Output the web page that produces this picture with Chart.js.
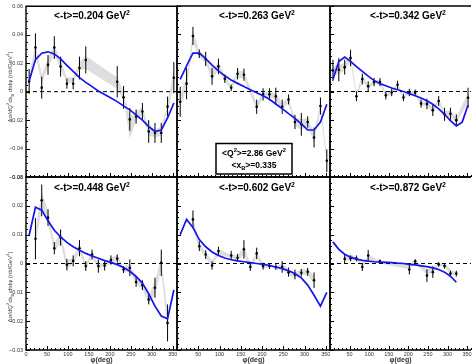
<!DOCTYPE html>
<html>
<head>
<meta charset="utf-8">
<script src="https://cdn.jsdelivr.net/npm/chart.js@4/dist/chart.umd.min.js"></script>
<style>
  html, body { margin: 0; padding: 0; background: #fff; }
  #wrap { position: relative; width: 475px; height: 364px; overflow: hidden; background: #fff; }
  #wrap canvas { position: absolute; left: 0; top: 0; }
</style>
</head>
<body>
<div id="wrap"></div>
<script>
// ---- kinematic labels ----
const tLabels = ['0.204', '0.263', '0.342', '0.448', '0.602', '0.872'];
const q2Label = '2.86';
const xbLabel = '0.335';

// ---- axis ticks ----
const xTickValues = [0, 50, 100, 150, 200, 250, 300, 350];
const yTicksTop = [-0.06, -0.04, -0.02, 0, 0.02, 0.04, 0.06];
const yTickLabelsTop = ['\u22120.06', '\u22120.04', '\u22120.02', '0', '0.02', '0.04', '0.06'];
const yTicksBottom = [-0.03, -0.02, -0.01, 0, 0.01, 0.02, 0.03];
const yTickLabelsBottom = ['\u22120.03', '\u22120.02', '\u22120.01', '0', '0.01', '0.02', '0.03'];

// phi bin centres used by the model curves
const bins = [7.5, 22.5, 37.5, 52.5, 67.5, 82.5, 97.5, 112.5, 127.5, 142.5, 157.5, 172.5,
              187.5, 202.5, 217.5, 232.5, 247.5, 262.5, 277.5, 292.5, 307.5, 322.5, 337.5, 352.5];

// ---- <-t> = 0.204 ----
const phi1 = [7.5, 22.5, 37.5, 52.5, 67.5, 82.5, 97.5, 112.5, 127.5, 142.5, 217.5, 232.5, 247.5, 262.5, 277.5, 292.5, 307.5, 322.5, 337.5, 352.5];
const val1 = [0.0072, 0.031, 0.0028, 0.0188, 0.031, 0.0176, 0.0056, 0.0056, 0.0166, 0.0223, 0.007, -0.004, -0.0195, -0.0175, -0.014, -0.028, -0.029, -0.029, -0.0105, 0.0098];
const err1 = [0.0087, 0.010, 0.0077, 0.007, 0.008, 0.007, 0.0035, 0.004, 0.008, 0.0095, 0.011, 0.008, 0.008, 0.005, 0.006, 0.008, 0.007, 0.007, 0.007, 0.011];
const bandLo1 = [0.004, 0.026, 0.005, 0.017, 0.026, 0.016, 0.006, 0.006, 0.015, 0.016, 0.002, -0.006, -0.033, -0.020, -0.016, -0.031, -0.032, -0.031, -0.013, 0.004];
const bandHi1 = [0.011, 0.034, 0.012, 0.024, 0.033, 0.022, 0.010, 0.010, 0.021, 0.025, 0.010, 0.000, -0.018, -0.014, -0.011, -0.025, -0.026, -0.025, -0.008, 0.015];
const fit1 = [0.0075, 0.0225, 0.027, 0.028, 0.0265, 0.023, 0.0185, 0.0143, 0.0098, 0.0065, 0.0035, 0.0005,
              -0.002, -0.0045, -0.007, -0.010, -0.0128, -0.0163, -0.020, -0.0245, -0.028, -0.027, -0.0185, -0.008];

// ---- <-t> = 0.263 ----
const phi2 = [7.5, 22.5, 37.5, 52.5, 67.5, 82.5, 97.5, 112.5, 127.5, 142.5, 157.5, 187.5, 202.5, 217.5, 232.5, 247.5, 262.5, 277.5, 292.5, 307.5, 322.5, 337.5, 352.5];
const val2 = [-0.0072, 0.0055, 0.039, 0.0265, 0.0228, 0.0107, 0.0176, 0.009, 0.0026, 0.0125, 0.0118, -0.0107, -0.002, -0.002, -0.0033, -0.0107, -0.0056, -0.0214, -0.023, -0.0214, -0.0323, -0.0102, -0.0486];
const err2 = [0.0105, 0.011, 0.0064, 0.003, 0.005, 0.006, 0.0055, 0.003, 0.0023, 0.004, 0.0043, 0.005, 0.0043, 0.0043, 0.006, 0.005, 0.0035, 0.005, 0.008, 0.004, 0.007, 0.006, 0.008];
const bandLo2 = [-0.010, 0.001, 0.034, 0.024, 0.020, 0.008, 0.015, 0.007, 0.001, 0.010, 0.009, -0.013, -0.004, -0.004, -0.006, -0.013, -0.008, -0.024, -0.027, -0.024, -0.036, -0.013, -0.052];
const bandHi2 = [-0.003, 0.010, 0.042, 0.029, 0.025, 0.014, 0.021, 0.011, 0.004, 0.015, 0.014, -0.008, 0.000, 0.000, -0.001, -0.008, -0.004, -0.019, -0.019, -0.019, -0.029, -0.007, -0.045];
const fit2 = [0.0085, 0.018, 0.027, 0.027, 0.023, 0.0185, 0.0145, 0.011, 0.008, 0.0057, 0.0035, 0.0013,
              -0.0009, -0.003, -0.0055, -0.0088, -0.012, -0.0155, -0.0188, -0.0228, -0.027, -0.027, -0.0215, -0.009];

// ---- <-t> = 0.342 ----
const phi3 = [7.5, 22.5, 37.5, 52.5, 67.5, 82.5, 97.5, 112.5, 127.5, 142.5, 157.5, 172.5, 187.5, 202.5, 217.5, 232.5, 247.5, 262.5, 277.5, 292.5, 307.5, 322.5, 352.5];
const val3 = [0.0148, 0.0153, 0.0171, 0.0235, -0.0033, 0.0087, 0.0037, 0.0066, 0.0066, -0.0027, -0.0007, 0.0047, -0.0042, -0.0007, -0.0009, -0.0085, -0.0088, -0.0131, -0.0067, -0.016, -0.0157, -0.0201, -0.0044];
const err3 = [0.0075, 0.0081, 0.0052, 0.0058, 0.0035, 0.0038, 0.0035, 0.0029, 0.0029, 0.0029, 0.0026, 0.0029, 0.0026, 0.0026, 0.0023, 0.0029, 0.0037, 0.0041, 0.0035, 0.0046, 0.0043, 0.0041, 0.007];
const bandLo3 = [0.012, 0.012, 0.015, 0.021, -0.004, 0.007, 0.002, 0.005, 0.005, -0.004, -0.002, 0.003, -0.005, -0.002, -0.002, -0.010, -0.010, -0.015, -0.008, -0.018, -0.018, -0.022, -0.008];
const bandHi3 = [0.018, 0.019, 0.020, 0.026, 0.000, 0.011, 0.005, 0.008, 0.008, -0.001, 0.001, 0.006, -0.003, 0.001, 0.000, -0.007, -0.007, -0.011, -0.005, -0.014, -0.013, -0.018, -0.001];
const fit3 = [0.0085, 0.021, 0.0242, 0.0212, 0.0175, 0.0141, 0.0108, 0.0078, 0.0055, 0.004, 0.0025, 0.0012,
              0.0, -0.0015, -0.003, -0.0045, -0.0065, -0.009, -0.0122, -0.016, -0.0205, -0.0242, -0.0215, -0.0095];

// ---- <-t> = 0.448 ----
const phi4 = [22.5, 37.5, 52.5, 67.5, 82.5, 97.5, 112.5, 127.5, 142.5, 157.5, 172.5, 187.5, 202.5, 217.5, 232.5, 247.5, 262.5, 277.5, 292.5, 307.5, 322.5, 337.5];
const val4 = [0.0086, 0.0219, 0.0159, 0.0053, 0.009, -0.0004, 0.0009, 0.0053, -0.0009, 0.0031, -0.0009, -0.0007, 0.0012, 0.0017, -0.0021, -0.0015, -0.0064, -0.0075, -0.0125, -0.0084, 0.0002, -0.0206];
const err4 = [0.0072, 0.0055, 0.0029, 0.0021, 0.0028, 0.002, 0.0019, 0.0028, 0.0017, 0.0017, 0.0023, 0.0017, 0.0016, 0.0014, 0.0012, 0.0029, 0.0017, 0.0017, 0.0017, 0.0035, 0.0046, 0.0064];
const bandLo4 = [0.006, 0.019, 0.014, 0.004, 0.007, -0.002, 0.000, 0.004, -0.002, 0.002, -0.002, -0.001, 0.000, 0.001, -0.003, -0.003, -0.007, -0.009, -0.014, -0.011, -0.002, -0.024];
const bandHi4 = [0.012, 0.025, 0.018, 0.007, 0.011, 0.001, 0.002, 0.007, 0.000, 0.004, 0.000, 0.000, 0.002, 0.003, -0.001, 0.000, -0.005, -0.006, -0.011, -0.006, 0.002, -0.017];
const fit4 = [0.0098, 0.0195, 0.0185, 0.0148, 0.0115, 0.0092, 0.0073, 0.0058, 0.0046, 0.0035, 0.0026, 0.0018,
              0.001, 0.0004, -0.0004, -0.0014, -0.0027, -0.0045, -0.0068, -0.0105, -0.0148, -0.0182, -0.0192, -0.0092];

// ---- <-t> = 0.602 ----
const phi5 = [37.5, 52.5, 67.5, 82.5, 97.5, 127.5, 142.5, 157.5, 172.5, 187.5, 202.5, 217.5, 232.5, 247.5, 262.5, 277.5, 292.5, 307.5, 322.5];
const val5 = [0.0153, 0.006, 0.0031, -0.0007, 0.0043, 0.0028, 0.002, 0.0049, -0.0012, 0.0035, -0.0009, -0.0009, -0.0012, -0.0012, -0.003, -0.0038, -0.0032, -0.0029, -0.0058];
const err5 = [0.0031, 0.0017, 0.0015, 0.0014, 0.0015, 0.0016, 0.0013, 0.0032, 0.0014, 0.002, 0.0012, 0.001, 0.001, 0.002, 0.0016, 0.0017, 0.0013, 0.0014, 0.0027];
const bandLo5 = [0.012, 0.005, 0.002, -0.001, 0.003, 0.002, 0.001, 0.003, -0.002, 0.002, -0.002, -0.001, -0.002, -0.002, -0.004, -0.005, -0.004, -0.004, -0.007];
const bandHi5 = [0.016, 0.007, 0.004, 0.001, 0.005, 0.003, 0.003, 0.006, 0.000, 0.004, 0.000, 0.000, -0.001, 0.000, -0.002, -0.003, -0.002, -0.002, -0.004];
const fit5 = [0.010, 0.0153, 0.0125, 0.0083, 0.0058, 0.004, 0.0028, 0.0019, 0.0013, 0.0009, 0.0006, 0.0003,
              0.0, -0.0003, -0.0007, -0.0012, -0.0018, -0.0025, -0.0035, -0.005, -0.0075, -0.011, -0.0148, -0.010];

// ---- <-t> = 0.872 ----
const phi6 = [37.5, 52.5, 67.5, 82.5, 97.5, 127.5, 202.5, 217.5, 247.5, 262.5, 277.5, 292.5, 307.5, 322.5];
const val6 = [0.0016, 0.0018, 0.0018, -0.0012, 0.0028, 0.0008, -0.0021, 0.0008, -0.0042, -0.003, -0.0003, -0.0009, -0.0035, -0.0035];
const err6 = [0.0016, 0.001, 0.001, 0.0014, 0.0019, 0.0006, 0.0017, 0.0007, 0.0022, 0.002, 0.0008, 0.0009, 0.001, 0.001];
const bandLo6 = [0.001, 0.001, 0.001, -0.001, 0.001, 0.000, -0.002, 0.000, -0.004, -0.003, -0.001, -0.001, -0.004, -0.004];
const bandHi6 = [0.003, 0.003, 0.002, 0.000, 0.003, 0.001, 0.000, 0.001, -0.002, -0.001, 0.000, 0.000, -0.002, -0.003];
const fit6 = [0.0075, 0.0049, 0.0032, 0.0022, 0.0015, 0.0011, 0.0008, 0.0006, 0.0005, 0.0004, 0.0003, 0.0001,
              0.0, -0.0003, -0.0005, -0.0008, -0.0011, -0.0015, -0.0021, -0.003, -0.0044, -0.0065, null, null];

const panels = [
  { phi: phi1, val: val1, err: err1, lo: bandLo1, hi: bandHi1, fit: fit1 },
  { phi: phi2, val: val2, err: err2, lo: bandLo2, hi: bandHi2, fit: fit2 },
  { phi: phi3, val: val3, err: err3, lo: bandLo3, hi: bandHi3, fit: fit3 },
  { phi: phi4, val: val4, err: err4, lo: bandLo4, hi: bandHi4, fit: fit4 },
  { phi: phi5, val: val5, err: err5, lo: bandLo5, hi: bandHi5, fit: fit5 },
  { phi: phi6, val: val6, err: err6, lo: bandLo6, hi: bandHi6, fit: fit6 }
];

// ---- layout of the 2x3 grid of pads ----
const W = 475, H = 364;
const colEdges = [[26, 177], [177, 330], [330, 475]];
const rowEdges = [[6, 177], [177, 350]];
const titleCenters = [92, 257, 408];
const titleBaselines = [19, 191];
const FONT = '"Liberation Sans", Arial, Helvetica, sans-serif';

Chart.defaults.font.family = FONT;
Chart.defaults.animation = false;

// text with optional sub/superscript pieces
function drawRich(ctx, parts, x, y, size, weight, align) {
  const small = size * 0.68;
  const widths = parts.map(([t, k]) => {
    ctx.font = `${weight} ${k ? small : size}px ${FONT}`;
    return ctx.measureText(t).width;
  });
  const total = widths.reduce((a, b) => a + b, 0);
  let cx = align === 'center' ? x - total / 2 : x;
  ctx.textAlign = 'left';
  ctx.textBaseline = 'alphabetic';
  parts.forEach(([t, k], i) => {
    ctx.font = `${weight} ${k ? small : size}px ${FONT}`;
    const dy = k === 'sub' ? size * 0.28 : (k === 'sup' ? -size * 0.42 : 0);
    ctx.fillText(t, cx, y + dy);
    cx += widths[i];
  });
}

const padDecor = {
  id: 'padDecor',
  afterDatasetsDraw(chart, args, opts) {
    const ctx = chart.ctx;
    const { left, right, top, bottom } = chart.chartArea;
    const xs = chart.scales.x, ys = chart.scales.y;
    ctx.save();
    ctx.strokeStyle = '#000';
    ctx.lineWidth = 1;
    // inward tick marks, long at labelled values, short in between
    ctx.beginPath();
    for (let v = 0; v <= 360; v += 10) {
      const px = Math.round(xs.getPixelForValue(v)) + 0.5;
      const len = v % 50 === 0 ? 4 : 2;
      ctx.moveTo(px, bottom); ctx.lineTo(px, bottom - len);
    }
    const yMin = ys.min, yMax = ys.max, step = opts.minorStep, major = opts.majorStep;
    const n = Math.round((yMax - yMin) / step);
    for (let i = 0; i <= n; i++) {
      const v = yMin + i * step;
      const py = Math.round(ys.getPixelForValue(v)) + 0.5;
      const isMajor = Math.abs(Math.round(v / major) * major - v) < 1e-9;
      const len = isMajor ? 4 : 2;
      ctx.moveTo(left, py); ctx.lineTo(left + len, py);
    }
    ctx.stroke();
    // pad frame
    ctx.lineWidth = 1.4;
    ctx.beginPath();
    ctx.moveTo(right, top); ctx.lineTo(left, top); ctx.lineTo(left, bottom); ctx.lineTo(right, bottom);
    if (opts.closeRight) ctx.lineTo(right, top);
    ctx.stroke();
    ctx.restore();
  },
  afterDraw(chart, args, opts) {
    const ctx = chart.ctx;
    ctx.save();
    ctx.fillStyle = '#000';
    drawRich(ctx, [['<-t>=' + opts.tLabel + ' GeV'], ['2', 'sup']], opts.titleX, opts.titleY, 10, 'bold', 'center');
    if (opts.showKinematics) {
      const bx = 216, by = 143.5, bw = 76, bh = 30.5;
      ctx.fillStyle = '#fff';
      ctx.fillRect(bx, by, bw, bh);
      ctx.strokeStyle = '#000';
      ctx.lineWidth = 1.5;
      ctx.strokeRect(bx, by, bw, bh);
      ctx.fillStyle = '#000';
      drawRich(ctx, [['<Q'], ['2', 'sup'], ['>=' + q2Label + ' GeV'], ['2', 'sup']], bx + bw / 2, by + 12.5, 8.5, 'bold', 'center');
      drawRich(ctx, [['<x'], ['B', 'sub'], ['>=' + xbLabel]], bx + bw / 2, by + 24.5, 8.5, 'bold', 'center');
    }
    if (opts.yTitleY) {
      ctx.save();
      ctx.translate(12, opts.yTitleY);
      ctx.rotate(-Math.PI / 2);
      ctx.fillStyle = '#444';
      drawRich(ctx, [['\u0394\u03c3/dQ'], ['2', 'sup'], ['dx'], ['B', 'sub'], [' dtd\u03c6 (nb/GeV'], ['4', 'sup'], [')']], 0, 0, 6, 'normal', 'center');
      ctx.restore();
    }
    ctx.restore();
  }
};

const wrap = document.getElementById('wrap');

panels.forEach((P, idx) => {
  const col = idx % 3, row = Math.floor(idx / 3);
  const [L, R] = colEdges[col];
  const [T, B] = rowEdges[row];
  const xAxisH = row === 1 ? 14 : 0;
  const yAxisW = col === 0 ? L : 0;

  const canvas = document.createElement('canvas');
  canvas.width = W; canvas.height = H;
  canvas.style.width = W + 'px'; canvas.style.height = H + 'px';
  wrap.appendChild(canvas);

  const errPts = [];
  P.phi.forEach((x, i) => {
    errPts.push({ x, y: P.val[i] - P.err[i] }, { x, y: P.val[i] + P.err[i] }, { x, y: null });
  });
  const ptPts = P.phi.map((x, i) => ({ x, y: P.val[i] }));
  const hiPts = P.phi.map((x, i) => ({ x, y: P.hi[i] }));
  const loPts = P.phi.map((x, i) => ({ x, y: P.lo[i] }));
  const fitPts = bins.map((x, i) => ({ x, y: P.fit[i] })).filter(p => p.y !== null);

  const yTicks = row === 0 ? yTicksTop : yTicksBottom;
  const yLabels = row === 0 ? yTickLabelsTop : yTickLabelsBottom;
  const yRange = row === 0 ? [-0.06, 0.06] : [-0.03, 0.03];

  new Chart(canvas, {
    type: 'line',
    data: {
      datasets: [
        { data: hiPts, borderColor: 'rgba(0,0,0,0)', borderWidth: 0, pointRadius: 0, fill: '+1', backgroundColor: '#dedede', order: 6 },
        { data: loPts, borderColor: 'rgba(0,0,0,0)', borderWidth: 0, pointRadius: 0, fill: false, order: 5 },
        { data: [{ x: 0, y: 0 }, { x: 360, y: 0 }], borderColor: '#000', borderWidth: 1, borderDash: [4, 3], pointRadius: 0, order: 4 },
        { data: errPts, borderColor: '#000', borderWidth: 1, pointRadius: 0, spanGaps: false, order: 3 },
        { data: ptPts, showLine: false, pointRadius: 1.3, pointBackgroundColor: '#000', pointBorderWidth: 0, order: 2 },
        { data: fitPts, borderColor: 'rgb(20,20,240)', borderWidth: 1.7, pointRadius: 0, order: 1 }
      ]
    },
    options: {
      responsive: false,
      devicePixelRatio: 1,
      animation: false,
      events: [],
      layout: { padding: { left: L - yAxisW, right: W - R, top: T, bottom: H - B - xAxisH } },
      plugins: {
        legend: { display: false },
        tooltip: { enabled: false },
        padDecor: {
          tLabel: tLabels[idx],
          titleX: titleCenters[col],
          titleY: titleBaselines[row],
          showKinematics: idx === 1,
          closeRight: col !== 2,
          yTitleY: col === 0 ? (row === 0 ? 87 : 287) : 0,
          minorStep: row === 0 ? 0.005 : 0.002,
          majorStep: row === 0 ? 0.02 : 0.01
        }
      },
      scales: {
        x: {
          type: 'linear', min: 0, max: 360,
          afterBuildTicks: s => { s.ticks = xTickValues.filter(v => col === 0 || v > 0).map(v => ({ value: v })); },
          afterFit: s => { s.height = xAxisH; },
          grid: { display: false, drawTicks: false },
          border: { display: false },
          ticks: { display: row === 1, autoSkip: false, maxRotation: 0, padding: 1, color: '#333', font: { size: 5.5 } },
          title: { display: row === 1, text: '\u03c6(deg)', color: '#333', font: { size: 7, weight: 'bold', lineHeight: 1 }, padding: 0 }
        },
        y: {
          type: 'linear', min: yRange[0], max: yRange[1],
          afterBuildTicks: s => { s.ticks = yTicks.map(v => ({ value: v })); },
          afterFit: s => { s.width = yAxisW; },
          grid: { display: false, drawTicks: false },
          border: { display: false },
          ticks: { display: col === 0, autoSkip: false, padding: 3, color: '#333', font: { size: 5.5 },
                   callback: (v, i) => yLabels[i] }
        }
      }
    },
    plugins: [padDecor]
  });
});
</script>
</body>
</html>
